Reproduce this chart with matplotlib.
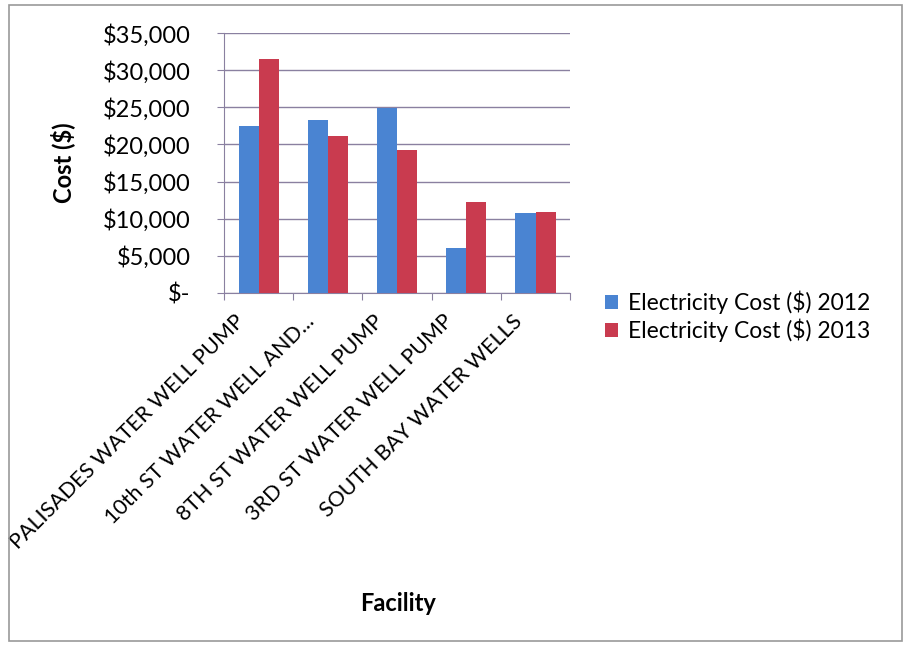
import matplotlib.pyplot as plt
import matplotlib.transforms as mtransforms
from matplotlib.patches import Rectangle
import numpy as np

facilities = ["PALISADES WATER WELL PUMP", "10th ST WATER WELL AND...",
              "8TH ST WATER WELL PUMP", "3RD ST WATER WELL PUMP",
              "SOUTH BAY WATER WELLS"]
cost_2012 = [22500, 23300, 24900, 6000, 10750]
cost_2013 = [31500, 21200, 19200, 12300, 10900]
yticks = [0, 5000, 10000, 15000, 20000, 25000, 30000, 35000]
ytick_labels = ["$-", "$5,000", "$10,000", "$15,000", "$20,000",
                "$25,000", "$30,000", "$35,000"]

plt.rcParams['font.family'] = ['Lato', 'DejaVu Sans']

fig = plt.figure(figsize=(9.05, 6.48), dpi=100)
ax = fig.add_axes([0.2475, 0.548, 0.3825, 0.401])

axis_col = '#8a80a0'
x = np.arange(len(facilities))
w = 0.29
ax.bar(x - w / 2, cost_2012, w, color='#4a84d2', label='Electricity Cost ($) 2012', zorder=3)
ax.bar(x + w / 2, cost_2013, w, color='#c93b4f', label='Electricity Cost ($) 2013', zorder=3)

ax.set_xlim(-0.5, len(facilities) - 0.5)
ax.set_ylim(0, 35000)
ax.set_yticks(yticks)
ax.set_yticklabels(ytick_labels, fontsize=17)
ax.set_xticks(np.arange(len(facilities) + 1) - 0.5, minor=False)
ax.set_xticklabels([])
ax.set_xticks(x, minor=True)
ax.set_xticklabels(facilities, minor=True, rotation=45, ha='right',
                   rotation_mode='anchor', fontsize=15.5)
ax.tick_params(axis='x', which='minor', length=0, pad=6)
ax.tick_params(axis='x', which='major', length=5, color=axis_col, direction='out')
ax.tick_params(axis='y', length=5, color=axis_col, direction='out', pad=19)

# shift the rotated labels a bit down-left, like the original
offset = mtransforms.ScaledTranslation(-24 / 100, -10 / 100, fig.dpi_scale_trans)
for lbl in ax.get_xticklabels(minor=True):
    lbl.set_transform(lbl.get_transform() + offset)

ax.grid(axis='y', color=axis_col, linewidth=1, zorder=0)
for s in ['top', 'right']:
    ax.spines[s].set_visible(False)
for s in ['left', 'bottom']:
    ax.spines[s].set_color(axis_col)

ax.set_ylabel("Cost ($)", fontsize=17, fontweight='bold', labelpad=20)
fig.text(0.44, 0.069, "Facility", fontsize=17, fontweight='bold', ha='center', va='center')

ax.legend(loc='center left', bbox_to_anchor=(1.04, -0.09), frameon=False,
          fontsize=16.5, handlelength=0.6, handleheight=0.6, handletextpad=0.4,
          labelspacing=0.2)

fig.patches.append(Rectangle((0.010, 0.011), 0.987, 0.982, transform=fig.transFigure,
                             fill=False, edgecolor='#999999', linewidth=1.2))

fig.savefig("out.png", dpi=100)
